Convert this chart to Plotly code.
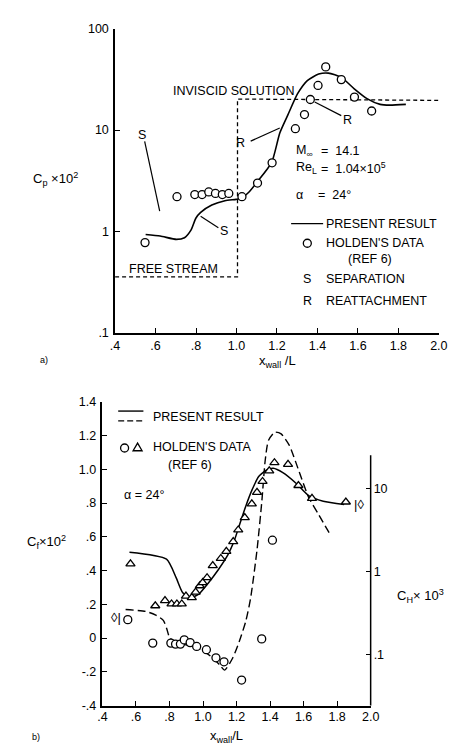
import plotly.graph_objects as go

W, H = 465, 756
FONT = "Liberation Sans"

# ---------------- data: panel a) ----------------
cp_data_x = [0.548, 0.706, 0.794, 0.830, 0.863, 0.896, 0.930, 0.962, 1.027, 1.104,
             1.176, 1.291, 1.336, 1.365, 1.403, 1.441, 1.518, 1.583, 1.668]
cp_data_y = [0.776, 2.20, 2.31, 2.31, 2.45, 2.37, 2.31, 2.37, 2.20, 3.0,
             4.75, 10.3, 14.2, 20.0, 27.5, 41.9, 31.4, 21.1, 15.4]
cp_curve_x = [0.551, 0.623, 0.703, 0.743, 0.775, 0.799, 0.823, 0.878, 0.943, 0.998,
              1.022, 1.062, 1.102, 1.174, 1.214, 1.254, 1.302, 1.350, 1.406, 1.454,
              1.518, 1.582, 1.645, 1.710, 1.758, 1.837]
cp_curve_y = [0.933, 0.90, 0.835, 0.867, 1.03, 1.35, 1.54, 1.82, 2.01, 2.07,
              2.12, 2.45, 3.07, 4.8, 9.35, 14.1, 22.8, 30.7, 35.6, 36.4,
              33.0, 25.5, 20.4, 17.9, 17.6, 17.9]
step_x = [0.4, 1.005, 1.005, 2.0]
step_y = [0.356, 0.356, 20.2, 19.6]

xticks = [0.4, 0.6, 0.8, 1.0, 1.2, 1.4, 1.6, 1.8, 2.0]
xtick_text = [".4", ".6", ".8", "1.0", "1.2", "1.4", "1.6", "1.8", "2.0"]
cp_ticks = [0.1, 1, 10, 100]
cp_tick_text = [".1", "1", "10", "100"]

# ---------------- data: panel b) ----------------
ch_data_x = [0.567, 0.715, 0.773, 0.812, 0.844, 0.873, 0.898, 0.933, 0.956, 0.981,
             0.998, 1.024, 1.058, 1.106, 1.139, 1.180, 1.210, 1.249, 1.291, 1.322,
             1.355, 1.395, 1.426, 1.507, 1.569, 1.650, 1.852]
ch_data_y = [1.25, 0.39, 0.45, 0.41, 0.41, 0.41, 0.51, 0.49, 0.57, 0.68,
             0.74, 0.85, 1.19, 1.45, 1.77, 2.32, 3.2, 4.5, 6.6, 9.1,
             12.3, 16.5, 20.7, 19.8, 11.0, 7.7, 6.95]
cf_data_x = [0.551, 0.700, 0.808, 0.836, 0.865, 0.888, 0.923, 0.962, 1.020, 1.077,
             1.125, 1.230, 1.283, 1.350, 1.414]
cf_data_y = [0.109, -0.030, -0.030, -0.036, -0.036, -0.011, -0.027, -0.050, -0.069, -0.117,
             -0.141, -0.249, -0.402, -0.005, 0.580]
ch_curve_x = [0.561, 0.782, 0.840, 0.879, 0.927, 0.975, 1.033, 1.091, 1.148, 1.187,
              1.216, 1.255, 1.293, 1.332, 1.380, 1.419, 1.476, 1.553, 1.630, 1.717, 1.842]
ch_curve_y = [1.72, 1.42, 0.845, 0.56, 0.49, 0.54, 0.74, 1.06, 1.6, 2.4,
              3.6, 6.2, 9.8, 14.1, 16.9, 17.7, 15.7, 11.8, 8.3, 7.1, 6.5]
cf_curve_x = [0.538, 0.657, 0.715, 0.763, 0.783, 0.802, 0.850, 0.920, 1.000, 1.060,
              1.100, 1.129, 1.177, 1.216, 1.255, 1.283, 1.322, 1.351, 1.370, 1.390,
              1.428, 1.466, 1.515, 1.573, 1.631, 1.688, 1.761]
cf_curve_y = [0.169, 0.158, 0.138, 0.105, 0.057, 0.0, -0.030, -0.045, -0.075, -0.120,
              -0.160, -0.190, -0.118, -0.021, 0.100, 0.231, 0.522, 0.813, 1.045, 1.171,
              1.220, 1.210, 1.142, 0.987, 0.832, 0.735, 0.609]
cf_ticks = [-0.4, -0.2, 0, 0.2, 0.4, 0.6, 0.8, 1.0, 1.2, 1.4]
cf_tick_text = ["-.4", "-.2", "0", ".2", ".4", ".6", ".8", "1.0", "1.2", "1.4"]
ch_ticks = [0.1, 1, 10]
ch_tick_text = [".1", "1", "10"]


def P(x, y):
    return x / W, 1 - y / H


fig = go.Figure()

# panel a
fig.add_trace(go.Scatter(x=step_x, y=step_y, mode="lines", xaxis="x", yaxis="y",
                         line=dict(color="black", width=1.3, dash="4px,3px"), cliponaxis=False))
fig.add_trace(go.Scatter(x=cp_curve_x, y=cp_curve_y, mode="lines", xaxis="x", yaxis="y",
                         line=dict(color="black", width=1.6, shape="spline", smoothing=0.6)))
fig.add_trace(go.Scatter(x=cp_data_x, y=cp_data_y, mode="markers", xaxis="x", yaxis="y",
                         marker=dict(symbol="circle", size=8, color="white",
                                     line=dict(color="black", width=1.3)), cliponaxis=False))
# panel b
fig.add_trace(go.Scatter(x=cf_curve_x, y=cf_curve_y, mode="lines", xaxis="x2", yaxis="y2",
                         line=dict(color="black", width=1.4, dash="8px,4px", shape="spline", smoothing=0.6)))
fig.add_trace(go.Scatter(x=ch_curve_x, y=ch_curve_y, mode="lines", xaxis="x2", yaxis="y3",
                         line=dict(color="black", width=1.5, shape="spline", smoothing=0.6)))
fig.add_trace(go.Scatter(x=cf_data_x, y=cf_data_y, mode="markers", xaxis="x2", yaxis="y2",
                         marker=dict(symbol="circle", size=8, color="white",
                                     line=dict(color="black", width=1.3)), cliponaxis=False))
fig.add_trace(go.Scatter(x=ch_data_x, y=ch_data_y, mode="markers", xaxis="x2", yaxis="y3",
                         marker=dict(symbol="triangle-up", size=8, color="white",
                                     line=dict(color="black", width=1.3)), cliponaxis=False))

tickfont = dict(family=FONT, size=12.5, color="black")
axcommon = dict(showgrid=False, zeroline=False, showline=True, linecolor="black", linewidth=1.5,
                ticks="inside", ticklen=5, tickwidth=1.3, tickcolor="black", tickfont=tickfont)

fig.update_layout(
    width=W, height=H, margin=dict(l=0, r=0, t=0, b=0),
    paper_bgcolor="white", plot_bgcolor="white", showlegend=False,
    xaxis=dict(domain=[113.5 / W, 447.3 / W], range=[0.4, 2.0], anchor="y",
               tickvals=xticks, ticktext=xtick_text, ticklabelstandoff=0, **axcommon),
    yaxis=dict(domain=[1 - 332 / H, 1 - 22 / H], type="log", range=[-1, 2], anchor="x",
               tickvals=cp_ticks, ticktext=cp_tick_text, ticklabelstandoff=2, **axcommon),
    xaxis2=dict(domain=[100.5 / W, 377 / W], range=[0.4, 2.0], anchor="y2",
                tickvals=xticks, ticktext=xtick_text, ticklabelstandoff=-1, **axcommon),
    yaxis2=dict(domain=[1 - 711.7 / H, 1 - 402.3 / H], range=[-0.4, 1.4], anchor="x2",
                tickvals=cf_ticks, ticktext=cf_tick_text, ticklabelstandoff=2, **axcommon),
    yaxis3=dict(type="log", range=[-1.612, 2.05], overlaying="y2", side="right", anchor="x2",
                tickvals=ch_ticks, ticktext=ch_tick_text, ticklabelstandoff=2,
                **{**axcommon, "showline": False}),
)

ann = []


def txt(s, x, y, size=12.5, xanchor="left", yanchor="middle"):
    px, py = P(x, y)
    ann.append(dict(text=s, x=px, y=py, xref="paper", yref="paper", showarrow=False,
                    xanchor=xanchor, yanchor=yanchor, borderpad=0,
                    font=dict(family=FONT, size=size, color="black")))


shapes = []


def seg(x0, y0, x1, y1, dash="solid", width=1.2):
    a, b = P(x0, y0)
    c, d = P(x1, y1)
    shapes.append(dict(type="line", xref="paper", yref="paper", x0=a, y0=b, x1=c, y1=d,
                       line=dict(color="black", width=width, dash=dash)))


def circ(x, y, r=4):
    a, b = P(x, y)
    shapes.append(dict(type="circle", xref="paper", yref="paper", xsizemode="pixel", ysizemode="pixel",
                       xanchor=a, yanchor=b, x0=-r, x1=r, y0=-r, y1=r,
                       line=dict(color="black", width=1.3)))


def tri(x, y, r=4.5):
    a, b = P(x, y)
    shapes.append(dict(type="path", xref="paper", yref="paper", xsizemode="pixel", ysizemode="pixel",
                       xanchor=a, yanchor=b,
                       path=f"M {-r} {-r*0.75} L {r} {-r*0.75} L 0 {r*0.95} Z",
                       line=dict(color="black", width=1.3)))


# ---- panel a texts ----
txt("INVISCID SOLUTION", 171.7, 86)
txt("FREE STREAM", 127, 266.7)
txt("M<sub>∞</sub>", 299, 147)
txt("=  14.1", 325, 147)
txt("Re<sub>L</sub>", 299, 164)
txt("=  1.04×10<sup>5</sup>", 325, 164)
txt("α", 299, 191.7)
txt("=  24°", 322, 191.7)
txt("S", 141.7, 130, xanchor="center")
txt("S", 226, 228.3, xanchor="center")
txt("R", 242.3, 138.3, xanchor="center")
txt("R", 353.3, 115, xanchor="center")
seg(144, 137, 159.5, 208)
seg(201.7, 213.3, 220, 225)
seg(253.3, 136.7, 283.3, 123.3)
seg(319.3, 96.7, 346.7, 110.7)
seg(295, 220.7, 328, 220.7, width=1.4)
txt("PRESENT RESULT", 330, 220.7)
circ(311.7, 240.7)
txt("HOLDEN'S DATA", 330, 240.7)
txt("(REF 6)", 352.7, 256.5)
txt("S", 311.7, 276.7, xanchor="center")
txt("SEPARATION", 330, 276.7)
txt("R", 311.7, 299.3, xanchor="center")
txt("REATTACHMENT", 330, 299.3)
txt("C<sub>p</sub> ×10<sup>2</sup>", 28, 175, size=13)
txt("x<sub>wall</sub> /L", 281, 361, size=13, xanchor="center")
txt("a)", 40, 360, size=9, xanchor="center")

# ---- panel b texts ----
seg(116.7, 411.7, 142.7, 411.7, width=1.4)
seg(116.7, 421.7, 142.7, 421.7, dash="6px,3px", width=1.4)
txt("PRESENT RESULT", 151.7, 417.7)
circ(123.3, 449.3)
tri(136.7, 448.7)
txt("HOLDEN'S DATA", 151.7, 448.7)
txt("(REF 6)", 166.7, 466.7)
txt("α = 24°", 121.7, 497.3)
txt("◊|", 114, 622.3, size=13, xanchor="center")
txt("|◊", 365, 507.3, size=13, xanchor="center")
txt("C<sub>f</sub>×10<sup>2</sup>", 21.7, 545, size=13)
txt("C<sub>H</sub>× 10<sup>3</sup>", 403, 600, size=13)
txt("x<sub>wall</sub>/L", 228, 743, size=13, xanchor="center")
txt("b)", 31.7, 743.3, size=9, xanchor="center")

# right-hand axis line of panel b (drawn only over its labelled span)
shapes.append(dict(type="line", xref="x2 domain", yref="paper", x0=1, x1=1,
                   y0=1 - 711.7 / H, y1=1 - 456.7 / H, line=dict(color="black", width=1.5)))

fig.update_layout(annotations=ann, shapes=shapes)
fig.write_html("out.html", config={"displayModeBar": False},
               post_script="document.body.style.margin='0';document.body.style.overflow='hidden';")
